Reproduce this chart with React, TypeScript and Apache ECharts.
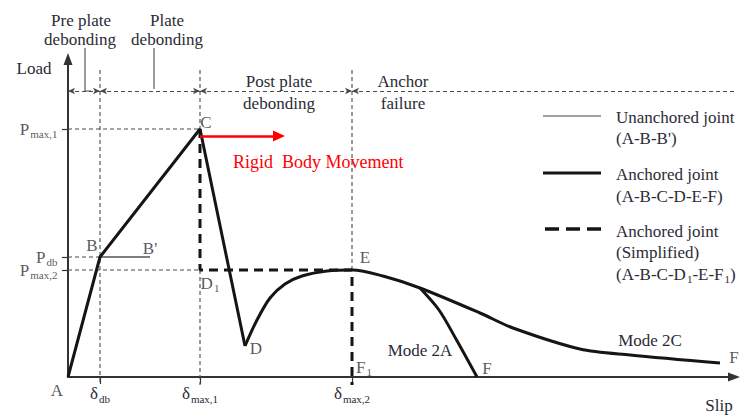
import React, { useEffect, useRef } from 'react';
import * as echarts from 'echarts';

const FONT = 'Liberation Serif';
const INK = '#2b2b36';
const LINE = '#151515';
const GUIDE = '#4a4a4a';

// Characteristic slip values (schematic units) and their axis labels
const slipMarks = [32, 132, 284];
const slipMarkLabels = ['{d|δ}{s|db}', '{d|δ}{s|max,1}', '{d|δ}{s|max,2}'];

// Characteristic load levels and their axis labels
const loadMarks = [107, 120, 248];
const loadMarkLabels = ['{d|P}{s|max,2}', '{d|P}{s|db}', '{d|P}{s|max,1}'];

// Load–slip paths
const unanchoredPath = [[0, 0], [32, 120], [82, 120]];
const anchoredRise = [[0, 0], [32, 120], [132, 248], [177, 31]];
const anchoredRecovery = [
  [177, 31], [189, 57], [202, 79], [217, 93], [234, 101], [259, 106],
  [284, 107], [315, 101], [352, 89], [412, 64], [445, 49],
  [512, 28], [562, 22], [652, 14],
];
const mode2APath = [[352, 89], [371, 67], [388, 38], [409, 0]];
const simplifiedPath = [[132, 248], [132, 107], [284, 107], [284, -8]];

// Reference (guide) lines
const guideSegments = [
  [[0, 248], [132, 248]],
  [[0, 120], [32, 120]],
  [[0, 107], [132, 107]],
  [[32, 307], [32, -8]],
  [[132, 307], [132, 248]],
  [[132, 107], [132, -8]],
  [[284, 307], [284, 107]],
];

// Stage boundaries along the top band
const stageRowLoad = 286;
const stageBounds = [0, 32, 132, 284, 666];

// Leader lines from the stage captions
const leaderLines = [
  [[17, 329], [17, 286], [23, 286]],
  [[86, 329], [86, 288]],
];

// Rigid body movement arrow (start, end)
const rigidArrow = [[132, 241], [211, 241]];

// Point names and where they sit
const pointNames = ['A', 'B', "B'", 'C', 'D{s|1}', 'D', 'E', 'F{s|1}', 'F', 'F'];
const pointAt = [
  [0, 0], [32, 120], [82, 120], [132, 248], [132, 107], [177, 31], [284, 107],
  [284, 0], [409, 0], [652, 14],
];
const pointOffsets = [
  [-11, 13], [-8, -12], [0, -9], [6, -7], [10, 13], [11, 2], [13, -13],
  [12, -10], [10, -9], [14, -6],
];

const richSub = {
  d: { fontFamily: FONT, fontSize: 17, color: INK },
  s: { fontFamily: FONT, fontSize: 11, color: INK, padding: [10, 0, 0, 1] },
};

function pathSeries(data: number[][], lineStyle: any, z: number, extra: any = {}) {
  return {
    type: 'line',
    data,
    showSymbol: false,
    symbol: 'none',
    silent: true,
    clip: false,
    z,
    lineStyle,
    ...extra,
  };
}

function text(x: number, y: number, t: string, opts: any = {}) {
  return {
    type: 'text',
    x,
    y,
    silent: true,
    style: {
      text: t,
      fontFamily: FONT,
      fontSize: 17,
      fill: INK,
      textAlign: 'center',
      textVerticalAlign: 'middle',
      align: 'center',
      verticalAlign: 'middle',
      rich: richSub,
      ...opts,
    },
  };
}

export default function App() {
  const ref = useRef<HTMLDivElement>(null);

  useEffect(() => {
    if (!ref.current) return;
    const chart = echarts.init(ref.current, undefined, { renderer: 'svg' });

    const arrowHead = { symbol: 'arrow', symbolSize: [5, 7] };
    const stageData: any[] = [];
    for (let i = 0; i < stageBounds.length - 1; i++) {
      const last = i === stageBounds.length - 2;
      stageData.push([
        { coord: [stageBounds[i], stageRowLoad], ...arrowHead },
        last
          ? { coord: [stageBounds[i + 1], stageRowLoad], symbol: 'none' }
          : { coord: [stageBounds[i + 1], stageRowLoad], ...arrowHead },
      ]);
    }

    const guideStyle = { color: GUIDE, width: 1.1, type: [4, 3] };

    const series: any[] = [];
    guideSegments.forEach((seg) => series.push(pathSeries(seg, guideStyle, 1)));
    leaderLines.forEach((seg) =>
      series.push(pathSeries(seg, { color: GUIDE, width: 1.1 }, 1)),
    );
    // top band with stage arrows
    series.push(
      pathSeries([], guideStyle, 1, {
        markLine: {
          silent: true,
          animation: false,
          label: { show: false },
          emphasis: { disabled: true },
          lineStyle: { color: GUIDE, width: 1.1, type: [4, 3] },
          data: stageData,
        },
      }),
    );
    // rigid body movement arrow
    series.push(
      pathSeries([], { color: 'red' }, 6, {
        markLine: {
          silent: true,
          animation: false,
          label: { show: false },
          emphasis: { disabled: true },
          lineStyle: { color: '#ff0000', width: 2.5, type: 'solid' },
          data: [[
            { coord: rigidArrow[0], symbol: 'none' },
            { coord: rigidArrow[1], symbol: 'triangle', symbolSize: [11, 12] },
          ]],
        },
      }),
    );
    series.push(pathSeries(unanchoredPath, { color: '#555', width: 1.3 }, 2));
    series.push(pathSeries(simplifiedPath, { color: LINE, width: 3, type: [9, 6] }, 3));
    series.push(pathSeries(anchoredRise, { color: LINE, width: 3 }, 4));
    series.push(pathSeries(anchoredRecovery, { color: LINE, width: 3 }, 4, { smooth: 0.3 }));
    series.push(pathSeries(mode2APath, { color: LINE, width: 3 }, 4, { smooth: 0.3 }));
    // point names
    series.push({
      type: 'scatter',
      silent: true,
      z: 7,
      symbolSize: 1,
      clip: false,
      itemStyle: { color: 'transparent' },
      data: pointAt.map((p, i) => ({
        value: p,
        label: {
          show: true,
          position: 'inside',
          offset: pointOffsets[i],
          formatter: pointNames[i],
          fontFamily: FONT,
          fontSize: 17,
          color: INK,
          rich: richSub,
        },
      })),
    });
    // load level names beside the load axis
    series.push({
      type: 'scatter',
      silent: true,
      z: 7,
      symbolSize: 1,
      clip: false,
      itemStyle: { color: 'transparent' },
      labelLayout: { hideOverlap: false },
      data: loadMarks.map((v, i) => ({
        value: [0, v],
        label: {
          show: true,
          position: 'left',
          distance: 10,
          formatter: loadMarkLabels[i],
          fontFamily: FONT,
          fontSize: 17,
          color: INK,
          rich: richSub,
        },
      })),
    });

    chart.setOption({
      animation: false,
      backgroundColor: '#ffffff',
      grid: { left: 68, right: 6, top: 59, bottom: 38, outerBoundsMode: 'none', containLabel: false },
      xAxis: {
        type: 'value',
        min: 0,
        max: 666,
        splitLine: { show: false },
        axisLine: {
          show: true,
          symbol: ['none', 'triangle'],
          symbolSize: [9, 12],
          lineStyle: { color: '#333', width: 2 },
        },
        axisTick: {
          show: true,
          customValues: slipMarks,
          length: 7,
          lineStyle: { color: '#333', width: 1.2 },
        },
        axisLabel: {
          show: true,
          customValues: slipMarks,
          margin: 6,
          hideOverlap: false,
          formatter: (v: number) => slipMarkLabels[slipMarks.indexOf(v)] ?? '',
          rich: richSub,
        },
      },
      yAxis: {
        type: 'value',
        min: 0,
        max: 318,
        splitLine: { show: false },
        axisLine: {
          show: true,
          symbol: ['none', 'triangle'],
          symbolSize: [9, 12],
          lineStyle: { color: '#333', width: 2 },
        },
        axisTick: {
          show: true,
          customValues: loadMarks,
          length: 6,
          lineStyle: { color: '#333', width: 1.2 },
        },
        axisLabel: { show: false },
      },
      series,
      graphic: [
        text(81, 20, 'Pre plate'),
        text(80, 39, 'debonding'),
        text(167, 20, 'Plate'),
        text(167, 39, 'debonding'),
        text(34, 68, 'Load'),
        text(279, 81, 'Post plate'),
        text(279, 103, 'debonding'),
        text(403, 81, 'Anchor'),
        text(403, 103, 'failure'),
        text(233, 162, 'Rigid  Body Movement', {
          fill: '#ff0000',
          fontSize: 18,
          textAlign: 'left',
          align: 'left',
        }),
        text(420, 350, 'Mode 2A'),
        text(650, 340, 'Mode 2C'),
        text(719, 405, 'Slip'),
        // legend
        { type: 'line', silent: true, shape: { x1: 543, y1: 116, x2: 601, y2: 116 }, style: { stroke: '#444', lineWidth: 1.2 } },
        { type: 'line', silent: true, shape: { x1: 543, y1: 173, x2: 601, y2: 173 }, style: { stroke: LINE, lineWidth: 3.2 } },
        { type: 'line', silent: true, shape: { x1: 545, y1: 229, x2: 601, y2: 229 }, style: { stroke: LINE, lineWidth: 3.5, lineDash: [14, 7] } },
        text(616, 117, 'Unanchored joint', { textAlign: 'left', align: 'left' }),
        text(616, 138, "(A-B-B')", { textAlign: 'left', align: 'left' }),
        text(616, 174, 'Anchored joint', { textAlign: 'left', align: 'left' }),
        text(616, 196, '(A-B-C-D-E-F)', { textAlign: 'left', align: 'left' }),
        text(616, 231, 'Anchored joint', { textAlign: 'left', align: 'left' }),
        text(616, 252, '(Simplified)', { textAlign: 'left', align: 'left' }),
        text(616, 274, '(A-B-C-D{s|1}-E-F{s|1})', { textAlign: 'left', align: 'left' }),
      ],
    });

    return () => chart.dispose();
  }, []);

  return <div ref={ref} style={{ width: 740, height: 415, position: 'absolute', left: 0, top: 0 }} />;
}
